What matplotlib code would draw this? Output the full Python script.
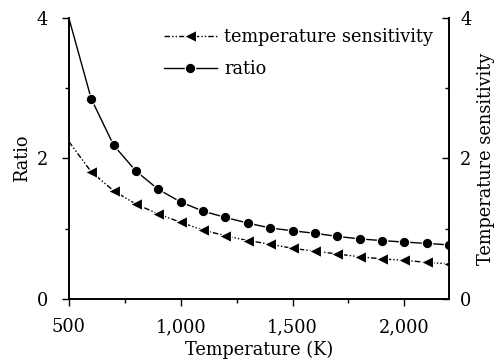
import numpy as np
import matplotlib
matplotlib.use('Agg')
import matplotlib.pyplot as plt
from matplotlib.ticker import MultipleLocator, FuncFormatter

# данные
temperature = [500, 600, 700, 800, 900, 1000, 1100, 1200, 1300, 1400, 1500,
               1600, 1700, 1800, 1900, 2000, 2100, 2200]
ratio = [4.0, 2.85, 2.19, 1.82, 1.56, 1.38, 1.25, 1.16, 1.08, 1.01, 0.97,
         0.935, 0.89, 0.855, 0.83, 0.81, 0.79, 0.77]
sensitivity = [2.24, 1.81, 1.54, 1.35, 1.21, 1.09, 0.98, 0.90, 0.83, 0.78, 0.72,
               0.68, 0.64, 0.60, 0.57, 0.55, 0.52, 0.50]

plt.rcParams['font.family'] = 'DejaVu Serif'
plt.rcParams['font.size'] = 12.8

fig = plt.figure(figsize=(4.99, 3.61), dpi=100)
ax = fig.add_axes([0.138, 0.172, 0.762, 0.778])
ax2 = ax.twinx()

l1, = ax2.plot(temperature, sensitivity, color='black', lw=1,
               linestyle=(0, (4, 1.5, 1, 1.5, 1, 1.5)),
               marker='<', ms=8.5, mec='white', mew=0.8, markevery=slice(1, None))
l2, = ax.plot(temperature, ratio, color='black', lw=1, linestyle='-',
              marker='o', ms=7.5, mec='white', mew=0.8, markevery=slice(1, None))

ax.set_xlim(500, 2200)
ax.set_ylim(0, 4)
ax2.set_ylim(0, 4)

ax.xaxis.set_major_locator(MultipleLocator(500))
ax.xaxis.set_minor_locator(MultipleLocator(250))
ax.xaxis.set_major_formatter(FuncFormatter(lambda v, p: '{:,.0f}'.format(v)))
for a in (ax, ax2):
    a.yaxis.set_major_locator(MultipleLocator(2))
    a.yaxis.set_minor_locator(MultipleLocator(1))

ax.tick_params(which='both', direction='out', width=1)
ax.tick_params(which='major', length=5)
ax.tick_params(which='minor', length=3)
ax.tick_params(axis='x', which='major', pad=9)
ax.tick_params(axis='y', which='major', pad=10)
ax2.tick_params(which='both', direction='in', width=1)
ax2.tick_params(which='major', length=5, pad=8)
ax2.tick_params(which='minor', length=3)

for a in (ax, ax2):
    a.spines['top'].set_visible(False)
    for s in ('left', 'right', 'bottom'):
        a.spines[s].set_linewidth(1.2)

ax.set_xlabel('Temperature (K)', labelpad=3)
ax.set_ylabel('Ratio', labelpad=4)
ax2.set_ylabel('Temperature sensitivity', labelpad=4)

ax.legend([l1, l2], ['temperature sensitivity', 'ratio'], loc='upper right',
          bbox_to_anchor=(1.0, 1.02), frameon=False, handlelength=3.0,
          handletextpad=0.4, labelspacing=0.75)

fig.savefig('out.png', dpi=100)
